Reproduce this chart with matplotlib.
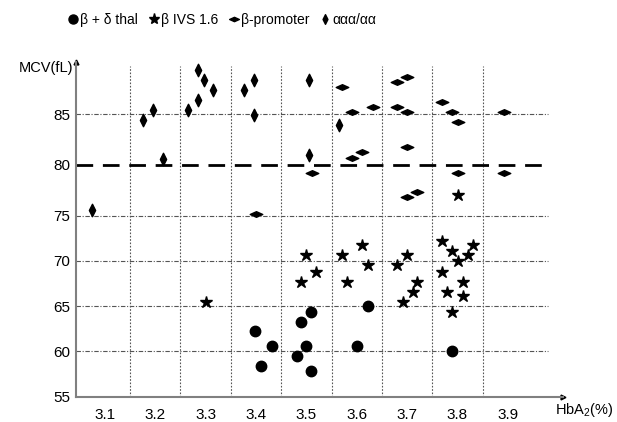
import matplotlib
matplotlib.use('Agg')
import matplotlib.pyplot as plt
from matplotlib.lines import Line2D
from matplotlib.path import Path
import numpy as np

plt.rcParams['font.family'] = ['Liberation Sans', 'DejaVu Sans']
plt.rcParams['mathtext.default'] = 'regular'

# beta + delta thal (circles)
bd_x = [3.399, 3.431, 3.411, 3.490, 3.510, 3.500, 3.481, 3.510, 3.622, 3.601, 3.790]
bd_y = [62.2, 60.6, 58.4, 63.3, 64.4, 60.6, 59.5, 57.8, 65.0, 60.6, 60.0]

# beta IVS 1.6 (stars)
ivs_x = [3.301, 3.500, 3.490, 3.519, 3.570, 3.610, 3.622, 3.581, 3.680, 3.700,
         3.720, 3.711, 3.691, 3.770, 3.790, 3.830, 3.821, 3.801, 3.770, 3.810,
         3.780, 3.810, 3.790, 3.801]
ivs_y = [65.5, 70.6, 67.7, 68.8, 70.6, 71.7, 69.5, 67.7, 69.5, 70.6,
         67.7, 66.6, 65.5, 72.2, 71.1, 71.7, 70.6, 70.0, 68.8, 67.7,
         66.6, 66.1, 64.4, 77.0]

# beta-promoter (horizontal diamonds)
prom_x = [3.401, 3.511, 3.570, 3.590, 3.632, 3.590, 3.611, 3.680, 3.700, 3.680,
          3.700, 3.700, 3.700, 3.720, 3.770, 3.790, 3.801, 3.801, 3.892, 3.892]
prom_y = [75.2, 79.2, 87.7, 85.2, 85.7, 80.7, 81.25, 88.2, 88.7, 85.7,
          85.2, 81.75, 76.8, 77.3, 86.2, 85.2, 84.2, 79.2, 85.2, 79.2]

# aaa/aa (vertical diamonds)
aaa_x = [3.075, 3.175, 3.195, 3.215, 3.266, 3.286, 3.286, 3.296, 3.315, 3.376,
         3.396, 3.396, 3.506, 3.506, 3.565]
aaa_y = [75.5, 84.4, 85.4, 80.6, 85.4, 86.4, 89.4, 88.4, 87.4, 87.4,
         88.4, 84.9, 88.4, 81.0, 83.9]

x_ticks = [3.1, 3.2, 3.3, 3.4, 3.5, 3.6, 3.7, 3.8, 3.9]
y_ticks = [55, 60, 65, 70, 75, 80, 85]
cutoff = 80

# y axis in the original is stretched above 75
r = 10.14 / 9.07
def fwd(y):
    y = np.asarray(y, dtype=float)
    return np.where(y <= 75, y, 75 + (y - 75) * r)
def inv(y):
    y = np.asarray(y, dtype=float)
    return np.where(y <= 75, y, 75 + (y - 75) / r)

vdia = Path([(0, 1), (0.5, 0), (0, -1), (-0.5, 0), (0, 1)],
            [Path.MOVETO, Path.LINETO, Path.LINETO, Path.LINETO, Path.CLOSEPOLY])
hdia = Path([(1, 0), (0, 0.45), (-1, 0), (0, -0.45), (1, 0)],
            [Path.MOVETO, Path.LINETO, Path.LINETO, Path.LINETO, Path.CLOSEPOLY])

fig = plt.figure(figsize=(6.17, 4.22), dpi=100)
ax = fig.add_axes([0.1232, 0.060, 0.789, 0.793])
ax.set_yscale('function', functions=(fwd, inv))
ax.set_xlim(3.043, 4.009)
ax.set_ylim(55, 90.16)

# grid
gc = '#555555'
for gx in np.arange(3.15, 3.9, 0.1):
    ax.plot([gx, gx], [55, 89.8], color=gc, lw=0.8, ls=(0, (1.5, 1.5)), zorder=1)
for gy in y_ticks[1:]:
    if gy == cutoff:
        continue
    ax.plot([3.043, 3.979], [gy, gy], color=gc, lw=0.8, ls=(0, (4, 1.5, 1, 1.5)), zorder=1)
ax.plot([3.043, 3.979], [cutoff, cutoff], color='black', lw=2, ls=(0, (6, 3.5)), zorder=2)

ax.plot(bd_x, bd_y, 'o', color='black', ms=7.5, ls='none', zorder=3)
ax.plot(ivs_x, ivs_y, '*', color='black', ms=9, ls='none', zorder=3)
ax.plot(prom_x, prom_y, marker=hdia, color='black', ms=9, ls='none', zorder=3)
ax.plot(aaa_x, aaa_y, marker=vdia, color='black', ms=9, ls='none', zorder=3)

# axes styling
for s in ['top', 'right']:
    ax.spines[s].set_visible(False)
for s in ['left', 'bottom']:
    ax.spines[s].set_color('#808080')
    ax.spines[s].set_linewidth(1.5)
ax.plot(1, 0, '>', color='black', ms=3.5, transform=ax.transAxes, clip_on=False)
ax.plot(0, 1, '^', color='black', ms=3.5, transform=ax.transAxes, clip_on=False)

ax.set_xticks(x_ticks)
ax.set_xticklabels([f'{v:.1f}' for v in x_ticks])
ax.set_yticks(y_ticks)
ax.tick_params(length=0, labelsize=11, pad=4)
ax.tick_params(axis='x', pad=8)

fig.text(73 / 617, 1 - 68 / 422, 'MCV(fL)', ha='right', va='center', fontsize=10.5)
fig.text(614 / 617, 1 - 410 / 422, 'HbA$_2$(%)', ha='right', va='center', fontsize=10.5)

handles = [
    Line2D([], [], marker='o', color='black', ls='none', ms=6.5),
    Line2D([], [], marker='*', color='black', ls='none', ms=8),
    Line2D([], [], marker=hdia, color='black', ls='none', ms=7),
    Line2D([], [], marker=vdia, color='black', ls='none', ms=7),
]
labels = ['β + δ thal', 'β IVS 1.6', 'β-promoter', 'ααα/αα']
fig.legend(handles, labels, loc='center left', bbox_to_anchor=(68 / 617, 1 - 20 / 422),
           ncol=4, frameon=False, fontsize=10, handlelength=0.7, handletextpad=0.15,
           columnspacing=0.8, borderpad=0, borderaxespad=0)

fig.savefig('out.png', dpi=100, facecolor='white')
